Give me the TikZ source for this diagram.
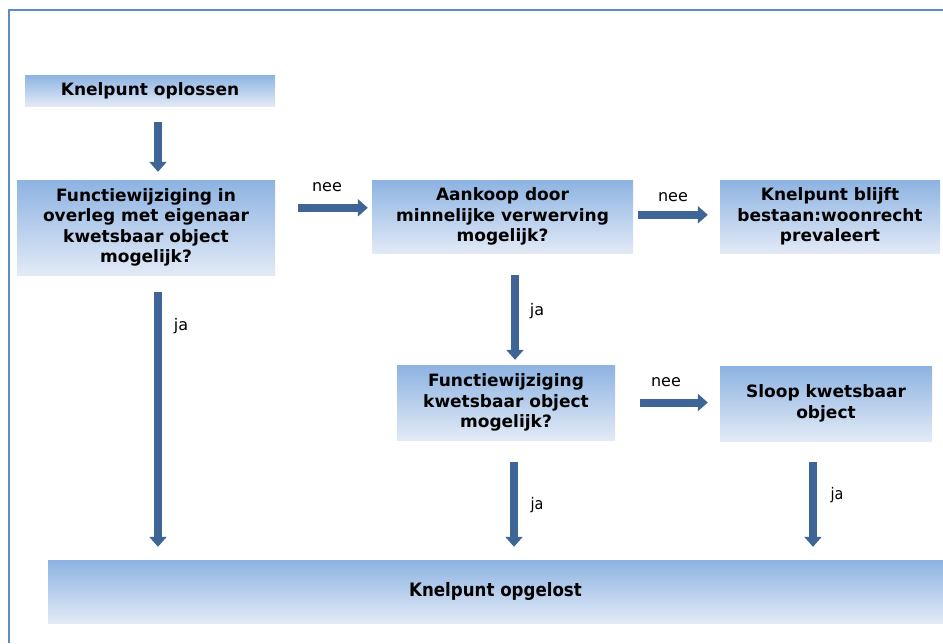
\documentclass[tikz,border=0pt]{standalone}
\usepackage{fontspec}
\setmainfont{DejaVu Sans}
\newfontfamily\condfont{DejaVu Sans Condensed}
\usetikzlibrary{arrows.meta}
\definecolor{framecol}{HTML}{5B8BC9}
\definecolor{arrowcol}{HTML}{3F6596}
\definecolor{boxtop}{HTML}{8DB3E2}
\definecolor{boxbot}{HTML}{E2EAF6}
\tikzset{
  box/.style={top color=boxtop, bottom color=boxbot, draw=none, inner sep=0pt,
    align=center, font=\fontsize{17}{20.5}\selectfont\bfseries},
  barrow/.style={draw=arrowcol, line width=8pt,
    -{Triangle[width=17pt,length=10pt]}},
  lab/.style={font=\fontsize{16}{18}\selectfont, inner sep=0pt},
}
\begin{document}
\begin{tikzpicture}[x=1pt,y=-1pt]
\useasboundingbox (0,0) rectangle (943,643);
\draw[framecol, line width=2pt] (9,643) -- (9,10) -- (943,10);

\node[box, minimum width=250pt, minimum height=31pt] (b1) at (150,90.5) {Knelpunt oplossen};
\node[box, minimum width=258pt, minimum height=95pt] (b2) at (146,227.5)
  {Functiewijziging in\\overleg met eigenaar\\kwetsbaar object\\mogelijk?};
\node[box, minimum width=261pt, minimum height=73pt] (b3) at (502.5,216.5)
  {Aankoop door\\minnelijke verwerving\\mogelijk?};
\node[box, minimum width=220pt, minimum height=73pt] (b4) at (830,216.5)
  {Knelpunt blijft\\bestaan:woonrecht\\prevaleert};
\node[box, minimum width=218pt, minimum height=75pt] (b5) at (506,402.5)
  {Functiewijziging\\kwetsbaar object\\mogelijk?};
\node[box, minimum width=212pt, minimum height=75pt] (b6) at (826,403.5)
  {Sloop kwetsbaar\\object};
\node[box, minimum width=895pt, minimum height=63pt, font=\fontsize{18.5}{20}\selectfont\condfont\bfseries] (b7) at (495.5,591.5)
  {Knelpunt opgelost};

\coordinate (c1) at ([xshift=8pt]b1.south);
\coordinate (c2) at ([xshift=12pt]b2.south);
\coordinate (c3) at ([xshift=12.5pt]b3.south);
\coordinate (c5) at ([xshift=8pt]b5.south);
\coordinate (c6) at ([xshift=-13pt]b6.south);

\draw[barrow, shorten <=16pt, shorten >=8pt] (c1) -- (c1 |- b2.north);
\draw[barrow, shorten <=23pt, shorten >=4pt] ([yshift=-28pt]b2.north east) -- ([yshift=-28pt]b3.north west);
\draw[barrow, shorten <=5pt, shorten >=12pt] ([yshift=-35pt]b3.north east) -- ([yshift=-35pt]b4.north west);
\draw[barrow, shorten <=22pt, shorten >=5pt] (c3) -- (c3 |- b5.north);
\draw[barrow, shorten <=25pt, shorten >=12pt] (b5.east) -- (b5.east -| b6.west);
\draw[barrow, shorten <=17pt, shorten >=13pt] (c2) -- (c2 |- b7.north);
\draw[barrow, shorten <=22pt, shorten >=13pt] (c5) -- (c5 |- b7.north);
\draw[barrow, shorten <=21pt, shorten >=13pt] (c6) -- (c6 |- b7.north);

\node[lab] (l1) at (327,187) {nee};
\node[lab] (l2) at (673,197) {nee};
\node[lab] (l3) at (666,382) {nee};
\node[lab] (l4) at (181,326) {ja};
\node[lab] (l5) at (537,311) {ja};
\node[lab, font=\fontsize{16}{18}\selectfont\condfont] (l6) at (537,505) {ja};
\node[lab, font=\fontsize{16}{18}\selectfont\condfont] (l7) at (837,495) {ja};
\end{tikzpicture}
\end{document}
